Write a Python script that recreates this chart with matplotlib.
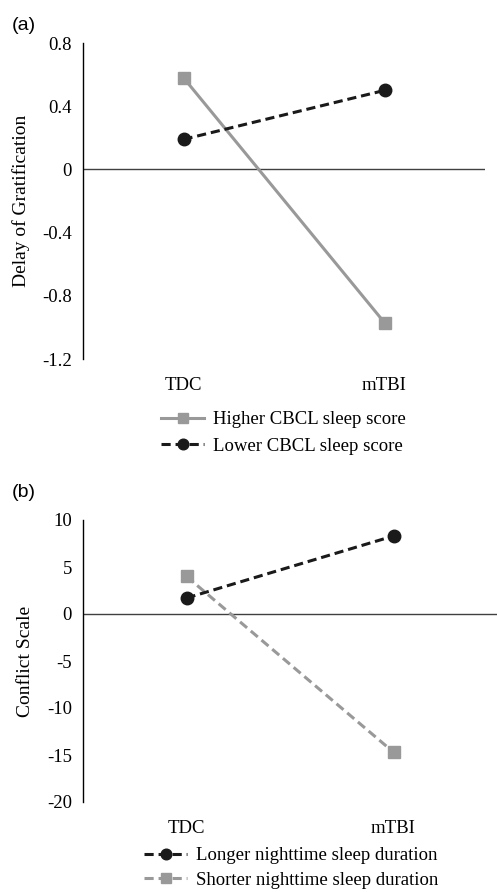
import matplotlib.pyplot as plt

# data
groups = ['TDC', 'mTBI']
higher_cbcl = [0.58, -0.97]
lower_cbcl = [0.19, 0.50]
longer_sleep = [1.7, 8.3]
shorter_sleep = [4.0, -14.7]

a_ticks = [0.8, 0.4, 0, -0.4, -0.8, -1.2]
a_ticklabels = ['0.8', '0.4', '0', '-0.4', '-0.8', '-1.2']
b_ticks = [10, 5, 0, -5, -10, -15, -20]
b_ticklabels = ['10', '5', '0', '-5', '-10', '-15', '-20']

plt.rcParams['font.family'] = ['Liberation Serif', 'DejaVu Serif']
FS = 13.5

GRAY = '#999999'
BLACK = '#1a1a1a'

fig = plt.figure(figsize=(4.97, 8.92), dpi=100)
W, H = 497, 892


def px_axes(left, top, right, bottom):
    return fig.add_axes([left / W, 1 - bottom / H, (right - left) / W, (bottom - top) / H])


def style_axes(ax, ticks, labels, ylim, ylabel):
    x = range(len(groups))
    ax.set_xlim(-0.5, 1.5)
    ax.set_ylim(*ylim)
    for s in ['top', 'right', 'bottom']:
        ax.spines[s].set_visible(False)
    ax.spines['left'].set_color('black')
    ax.spines['left'].set_linewidth(1.0)
    ax.axhline(0, color='#404040', linewidth=1.0, zorder=1)
    ax.set_yticks(ticks)
    ax.set_yticklabels(labels)
    ax.set_xticks(list(x))
    ax.set_xticklabels(groups)
    ax.tick_params(axis='both', length=0, labelsize=FS)
    ax.tick_params(axis='y', pad=8)
    ax.tick_params(axis='x', pad=13)
    ax.set_ylabel(ylabel, fontsize=14, labelpad=9)


# panel (a)
ax1 = px_axes(83, 43, 485, 359)
x = list(range(len(groups)))
l1, = ax1.plot(x, higher_cbcl, color=GRAY, linewidth=2.2, marker='s', markersize=8.5,
               label='Higher CBCL sleep score', zorder=3)
l2, = ax1.plot(x, lower_cbcl, color=BLACK, linewidth=2.2, linestyle=(0, (3, 1.6)),
               marker='o', markersize=9, label='Lower CBCL sleep score', zorder=4)
style_axes(ax1, a_ticks, a_ticklabels, (-1.2, 0.8), 'Delay of Gratification')
fig.legend(handles=[l1, l2], loc='center left', bbox_to_anchor=(161 / W, 1 - 433 / H),
           frameon=False, fontsize=FS, handlelength=2.3, handletextpad=0.45,
           labelspacing=0.5, borderaxespad=0, borderpad=0, markerscale=0.85)
fig.text(12 / W, 1 - 26 / H, '(a)', fontsize=14, family=['Liberation Sans'], va='center')

# panel (b)
ax2 = px_axes(83, 520, 497, 802)
l3, = ax2.plot(x, longer_sleep, color=BLACK, linewidth=2.2, linestyle=(0, (3, 1.6)),
               marker='o', markersize=9, label='Longer nighttime sleep duration', zorder=4)
l4, = ax2.plot(x, shorter_sleep, color=GRAY, linewidth=2.2, linestyle=(0, (3, 1.6)),
               marker='s', markersize=8.5, label='Shorter nighttime sleep duration', zorder=3)
style_axes(ax2, b_ticks, b_ticklabels, (-20, 10), 'Conflict Scale')
fig.legend(handles=[l3, l4], loc='center left', bbox_to_anchor=(144 / W, 1 - 868 / H),
           frameon=False, fontsize=FS, handlelength=2.3, handletextpad=0.45,
           labelspacing=0.4, borderaxespad=0, borderpad=0, markerscale=0.85)
fig.text(12 / W, 1 - 492 / H, '(b)', fontsize=14, family=['Liberation Sans'], va='center')

fig.savefig('out.png', dpi=100)
